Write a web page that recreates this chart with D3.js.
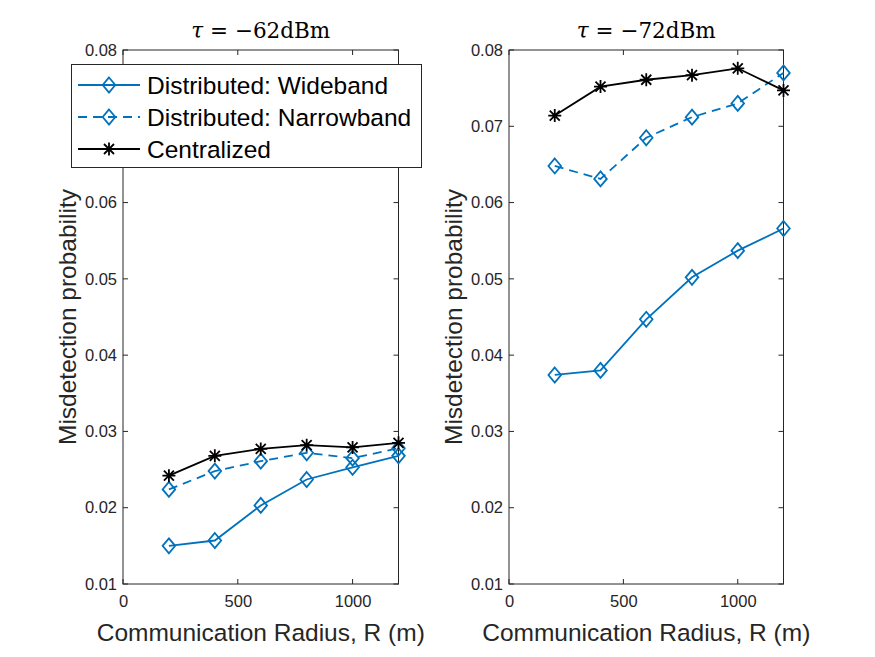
<!DOCTYPE html>
<html><head><meta charset="utf-8">
<script src="https://cdn.jsdelivr.net/npm/d3@7"></script>
<style>body{margin:0;background:#fff}</style>
</head><body>
<svg id="c" width="875" height="657"></svg>
<script>
const radius = [200, 400, 600, 800, 1000, 1200];
const xTicks = [0, 500, 1000];
const yTicks = [0.01, 0.02, 0.03, 0.04, 0.05, 0.06, 0.07, 0.08];
const yTickLabels = ["0.01","0.02","0.03","0.04","0.05","0.06","0.07","0.08"];
const titles = ["\u221262dBm", "\u221272dBm"];
const seriesNames = ["Distributed: Wideband", "Distributed: Narrowband", "Centralized"];
// left panel: tau = -62 dBm
const wideL = [0.0150, 0.0157, 0.0203, 0.0237, 0.0253, 0.0268];
const narrowL = [0.0224, 0.0248, 0.0261, 0.0272, 0.0265, 0.0278];
const centL = [0.0242, 0.0268, 0.0277, 0.0282, 0.0279, 0.0285];
// right panel: tau = -72 dBm
const wideR = [0.0374, 0.0380, 0.0447, 0.0502, 0.0537, 0.0566];
const narrowR = [0.0648, 0.0631, 0.0685, 0.0712, 0.0730, 0.0770];
const centR = [0.0714, 0.0752, 0.0761, 0.0767, 0.0776, 0.0747];

const blue = "#0072BD", black = "#000000", axisCol = "#262626";
const styles = [
  {color: blue, dash: null, marker: "diamond"},
  {color: blue, dash: "9,6", marker: "diamond"},
  {color: black, dash: null, marker: "star"}
];
const sans = "Liberation Sans, Arial, sans-serif";
const svg = d3.select("#c");
const panels = [
  {x0: 123, x1: 398.5, data: [wideL, narrowL, centL], title: titles[0]},
  {x0: 509, x1: 783.5, data: [wideR, narrowR, centR], title: titles[1]}
];
const yTop = 50, yBot = 584;
function drawMarker(g, type, x, y, color) {
  if (type === "diamond") {
    g.append("path").attr("d", `M${x},${y-7.5}L${x+6.3},${y}L${x},${y+7.5}L${x-6.3},${y}Z`)
      .attr("fill", "none").attr("stroke", color).attr("stroke-width", 1.8);
  } else {
    const r = 6.5, d = 5;
    g.append("path").attr("d", `M${x-r},${y}L${x+r},${y}M${x},${y-r}L${x},${y+r}M${x-d},${y-d}L${x+d},${y+d}M${x-d},${y+d}L${x+d},${y-d}`)
      .attr("stroke", color).attr("stroke-width", 1.8).attr("fill", "none");
  }
}
panels.forEach(p => {
  const x = d3.scaleLinear().domain([0, 1200]).range([p.x0, p.x1]);
  const y = d3.scaleLinear().domain([0.01, 0.08]).range([yBot, yTop]);
  const g = svg.append("g");
  g.append("rect").attr("x", p.x0).attr("y", yTop).attr("width", p.x1 - p.x0).attr("height", yBot - yTop)
    .attr("fill", "#fff").attr("stroke", axisCol).attr("stroke-width", 1);
  const tl = 5;
  const xa = d3.axisBottom(x).tickValues(xTicks).tickSize(0).tickPadding(11).tickFormat(d3.format("d"));
  const gx = g.append("g").attr("transform", `translate(0,${yBot})`).call(xa);
  gx.select(".domain").remove();
  gx.selectAll("text").attr("font-family", sans).attr("font-size", 16.5).attr("fill", axisCol);
  const ya = d3.axisLeft(y).tickValues(yTicks).tickSize(0).tickPadding(6).tickFormat((d, i) => yTickLabels[i]);
  const gy = g.append("g").attr("transform", `translate(${p.x0},0)`).call(ya);
  gy.select(".domain").remove();
  gy.selectAll("text").attr("font-family", sans).attr("font-size", 16.5).attr("fill", axisCol);
  xTicks.forEach(t => {
    g.append("line").attr("x1", x(t)).attr("x2", x(t)).attr("y1", yBot).attr("y2", yBot - tl).attr("stroke", axisCol);
    g.append("line").attr("x1", x(t)).attr("x2", x(t)).attr("y1", yTop).attr("y2", yTop + tl).attr("stroke", axisCol);
  });
  yTicks.forEach(t => {
    g.append("line").attr("x1", p.x0).attr("x2", p.x0 + tl).attr("y1", y(t)).attr("y2", y(t)).attr("stroke", axisCol);
    g.append("line").attr("x1", p.x1).attr("x2", p.x1 - tl).attr("y1", y(t)).attr("y2", y(t)).attr("stroke", axisCol);
  });
  p.data.forEach((vals, si) => {
    const s = styles[si];
    const line = d3.line().x((d, i) => x(radius[i])).y(d => y(d));
    g.append("path").datum(vals).attr("d", line).attr("fill", "none").attr("stroke", s.color)
      .attr("stroke-width", 1.8).attr("stroke-dasharray", s.dash);
    vals.forEach((v, i) => drawMarker(g, s.marker, x(radius[i]), y(v), s.color));
  });
  const cx = (p.x0 + p.x1) / 2;
  const t = g.append("text").attr("x", cx).attr("y", 38).attr("text-anchor", "middle")
    .attr("font-family", "DejaVu Serif, Liberation Serif, serif").attr("font-size", 21.5).attr("fill", "#000");
  t.append("tspan").attr("font-style", "italic").text("\u03C4");
  t.append("tspan").text(" = " + p.title);
  g.append("text").attr("x", cx).attr("y", 641).attr("text-anchor", "middle")
    .attr("font-family", sans).attr("font-size", 24.5).attr("fill", axisCol)
    .text("Communication Radius, R (m)");
  g.append("text").attr("transform", `translate(${p.x0 - 47},${(yTop + yBot) / 2}) rotate(-90)`)
    .attr("text-anchor", "middle").attr("font-family", sans)
    .attr("font-size", 24.5).attr("fill", axisCol).text("Misdetection probability");
});
const lg = svg.append("g");
lg.append("rect").attr("x", 71.5).attr("y", 64.5).attr("width", 350).attr("height", 103)
  .attr("fill", "#fff").attr("stroke", axisCol).attr("stroke-width", 1);
seriesNames.forEach((name, i) => {
  const s = styles[i];
  const yy = 85 + i * 32;
  lg.append("line").attr("x1", 78).attr("x2", 140).attr("y1", yy).attr("y2", yy).attr("stroke", s.color)
    .attr("stroke-width", 1.8).attr("stroke-dasharray", s.dash ? "9,6" : null);
  drawMarker(lg, s.marker, 109, yy, s.color);
  lg.append("text").attr("x", 147).attr("y", yy + 9).attr("font-family", sans)
    .attr("font-size", 24.5).attr("fill", "#000").text(name);
});
</script>
</body></html>
